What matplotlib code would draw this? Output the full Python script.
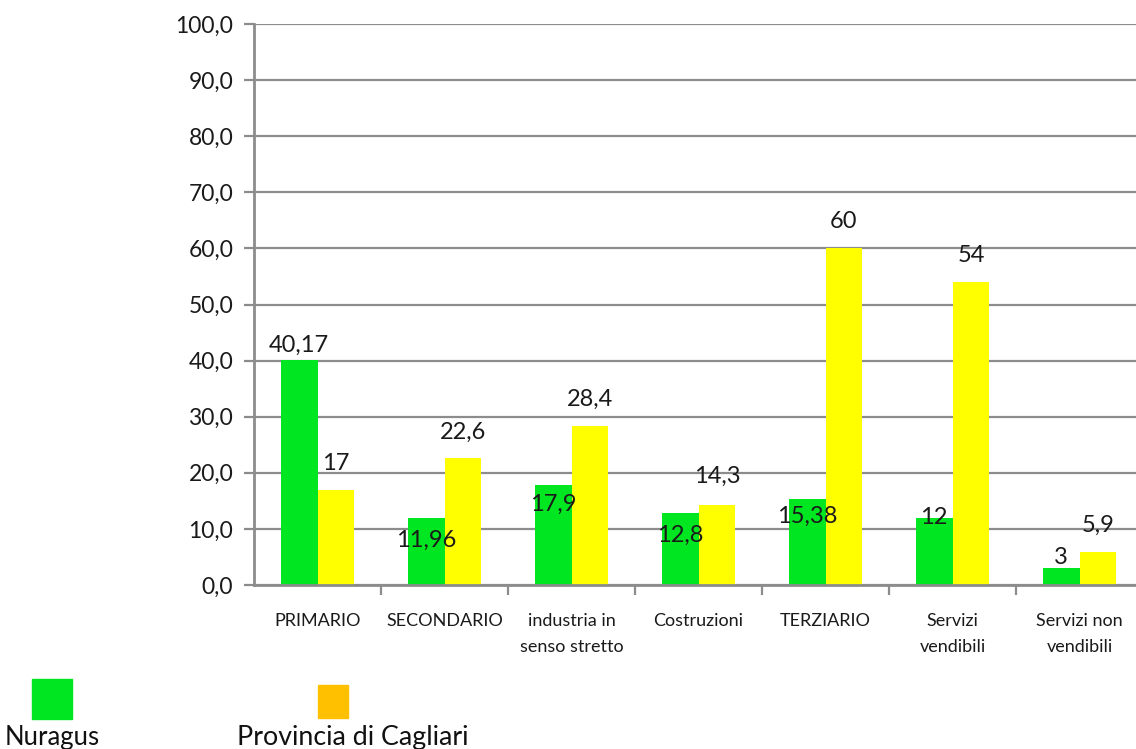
import matplotlib
matplotlib.use("Agg")
import matplotlib.pyplot as plt
from matplotlib.patches import Rectangle
from matplotlib.ticker import FixedLocator, FuncFormatter
import numpy as np

categories = ["PRIMARIO", "SECONDARIO", "industria in\nsenso stretto", "Costruzioni",
              "TERZIARIO", "Servizi\nvendibili", "Servizi non\nvendibili"]
nuragus = [40.17, 11.96, 17.9, 12.8, 15.38, 12, 3]
nuragus_labels = ["40,17", "11,96", "17,9", "12,8", "15,38", "12", "3"]
cagliari = [17, 22.6, 28.4, 14.3, 60, 54, 5.9]
cagliari_labels = ["17", "22,6", "28,4", "14,3", "60", "54", "5,9"]
series_names = ["Nuragus", "Provincia di Cagliari"]

# label vertical offsets (pixels, label centre relative to bar top)
nur_off = [14, -22, -20, -22, -18, 0, 11]
cag_off = [26, 26, 26, 28, 27, 27, 27]

plt.rcParams['font.family'] = ['Lato', 'DejaVu Sans']

W, H = 1136, 749
fig = plt.figure(figsize=(W / 100, H / 100), dpi=100)
ax = fig.add_axes([254 / W, (H - 585) / H, 889 / W, (585 - 24) / H])

x = np.arange(len(categories))
bw = 0.29
green = "#00E620"
yellow = "#FFFF00"
ax.bar(x - bw / 2, nuragus, bw, color=green, zorder=3)
ax.bar(x + bw / 2, cagliari, bw, color=yellow, zorder=3)

ax.set_xlim(-0.5, len(categories) - 0.5)
ax.set_ylim(0, 100)
ax.yaxis.set_major_locator(FixedLocator(np.arange(0, 101, 10)))
ax.yaxis.set_major_formatter(FuncFormatter(lambda v, p: f"{v:.1f}".replace(".", ",")))
ax.grid(axis="y", color="#8c8c8c", linewidth=1.6, zorder=0)
ax.set_axisbelow(True)

for s in ["top", "right"]:
    ax.spines[s].set_visible(False)
for s in ["left", "bottom"]:
    ax.spines[s].set_color("#8c8c8c")
    ax.spines[s].set_linewidth(2)
    ax.spines[s].set_zorder(4)

ax.set_xticks(x)
ax.set_xticklabels(categories, fontsize=13, color="#1a1a1a", linespacing=1.8, va="top")
ax.tick_params(axis="x", which="major", length=0, pad=20)
ax.set_xticks(np.arange(0.5, len(categories) - 0.5, 1), minor=True)
ax.tick_params(axis="x", which="minor", length=7, width=1.6, color="#8c8c8c", direction="out")
ax.tick_params(axis="y", length=7, width=1.6, color="#8c8c8c", labelsize=16.5,
               labelcolor="#1a1a1a", pad=8)

for i in range(len(categories)):
    ax.annotate(nuragus_labels[i], (x[i] - bw / 2, nuragus[i]), xytext=(0, nur_off[i] * 0.72),
                textcoords="offset points", ha="center", va="center", fontsize=17,
                color="#1a1a1a", zorder=5)
    ax.annotate(cagliari_labels[i], (x[i] + bw / 2, cagliari[i]), xytext=(0, cag_off[i] * 0.72),
                textcoords="offset points", ha="center", va="center", fontsize=17,
                color="#1a1a1a", zorder=5)

# legend
fig.add_artist(Rectangle((32 / W, (H - 719) / H), 40 / W, 40 / H, color=green,
                         transform=fig.transFigure))
fig.add_artist(Rectangle((318 / W, (H - 718) / H), 30 / W, 33 / H, color="#FFC000",
                         transform=fig.transFigure))
fig.text(5 / W, (H - 737) / H, series_names[0], fontsize=18.5, va="center", ha="left",
         color="#111111")
fig.text(237 / W, (H - 737) / H, series_names[1], fontsize=19.3, va="center", ha="left",
         color="#111111")

fig.savefig("out.png", dpi=100)
